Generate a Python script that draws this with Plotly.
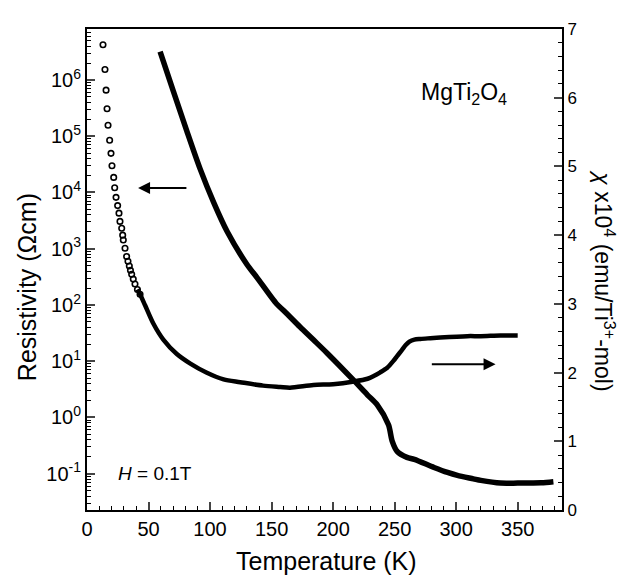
import plotly.graph_objects as go

# Resistivity (left axis, log scale), thick line
rho_T = [59.4, 70.2, 81.0, 92.0, 103.0, 114.0, 130.0, 138.0, 154.0, 160.0, 173.0, 184.0,
         195.0, 217.0, 228.0, 236.0, 245.0, 248.0, 252.0, 260.0, 266.0, 282.0, 293.0,
         301.0, 314.0, 320.0, 336.0, 350.0, 369.0, 379.0]
rho_val = [3.2e6, 6.3e5, 1.26e5, 2.6e4, 6.6e3, 2.0e3, 525, 310, 105, 79, 41, 24,
           14, 4.5, 2.5, 1.66, 0.74, 0.38, 0.25, 0.195, 0.18, 0.129, 0.105,
           0.093, 0.081, 0.076, 0.068, 0.068, 0.069, 0.072]

# Susceptibility (right axis), sparse open circles at low T
chi_T_sparse = [13.0, 14.6, 15.5, 16.3, 17.1, 18.4, 19.5, 20.3, 21.7, 22.5, 23.6, 24.9,
                26.0, 26.8, 28.2, 29.0, 29.5, 30.9, 32.2, 33.3, 34.4, 35.3, 36.3, 37.6,
                39.0, 41.0, 43.1]
chi_sparse = [6.77, 6.41, 6.11, 5.84, 5.60, 5.38, 5.19, 5.01, 4.84, 4.69, 4.55, 4.43,
              4.32, 4.20, 4.10, 4.00, 3.93, 3.81, 3.69, 3.62, 3.55, 3.49, 3.43, 3.36,
              3.29, 3.21, 3.14]

# Susceptibility, dense part (appears as a thick curve)
chi_T_dense = [41.0, 43.1, 47.2, 54.0, 62.0, 73.0, 84.0, 97.0, 111.0, 124.5, 143.0,
               157.0, 165.0, 184.0, 200.0, 217.0, 228.0, 233.0, 238.0, 244.0, 249.0, 252.0,
               256.0, 259.0, 262.0, 266.0, 271.0, 279.0, 287.0, 309.0, 320.0, 336.0, 350.0]
chi_dense = [3.21, 3.14, 2.98, 2.71, 2.48, 2.27, 2.13, 2.00, 1.90, 1.86, 1.81,
             1.79, 1.78, 1.82, 1.83, 1.87, 1.91, 1.95, 2.00, 2.07, 2.17, 2.24,
             2.33, 2.40, 2.45, 2.48, 2.49, 2.50, 2.51, 2.53, 2.53, 2.54, 2.54]

x_ticks = [0, 50, 100, 150, 200, 250, 300, 350]
log_ticks = [0.1, 1, 10, 100, 1e3, 1e4, 1e5, 1e6]
log_ticklabels = ["10<sup>-1</sup>", "10<sup>0</sup>", "10<sup>1</sup>", "10<sup>2</sup>",
                  "10<sup>3</sup>", "10<sup>4</sup>", "10<sup>5</sup>", "10<sup>6</sup>"]
chi_ticks = [0, 1, 2, 3, 4, 5, 6, 7]

FONT = "Liberation Sans, Arial, Helvetica, sans-serif"

log_minor = []
for e in range(-2, 7):
    for m in range(2, 10):
        log_minor.append(m * 10 ** e)

fig = go.Figure()
fig.add_trace(go.Scatter(x=rho_T, y=rho_val, mode="lines",
                         line=dict(color="black", width=5.5, shape="spline", smoothing=0.8),
                         showlegend=False, yaxis="y"))
fig.add_trace(go.Scatter(x=chi_T_dense, y=chi_dense, mode="lines",
                         line=dict(color="black", width=4.5, shape="spline", smoothing=0.8),
                         showlegend=False, yaxis="y2"))
fig.add_trace(go.Scatter(x=chi_T_sparse, y=chi_sparse, mode="markers",
                         marker=dict(symbol="circle-open", size=5.5, color="black",
                                     line=dict(width=1.6, color="black")),
                         showlegend=False, yaxis="y2"))

# page has an 8px body margin: figure is drawn offset by (8, 8)
fig.update_layout(
    width=624, height=575,
    margin=dict(l=79, r=70, t=12, b=73),
    paper_bgcolor="white", plot_bgcolor="white",
    font=dict(family=FONT, color="black", size=20),
    xaxis=dict(range=[0, 386], tickvals=x_ticks, ticks="inside", ticklen=8, tickwidth=1.6,
               showline=True, linewidth=2, linecolor="black", mirror=True,
               showgrid=False, zeroline=False, tickfont=dict(size=20),
               minor=dict(dtick=10, tick0=0, ticks="inside", ticklen=4, tickwidth=1.4,
                          tickcolor="black", showgrid=False)),
    yaxis=dict(type="log", range=[-1.646, 6.907], tickvals=log_ticks, ticktext=log_ticklabels,
               ticks="inside", ticklen=8, tickwidth=1.6, showline=True, linewidth=2,
               linecolor="black", showgrid=False, zeroline=False, tickfont=dict(size=20),
               minor=dict(tickmode="array", tickvals=log_minor, ticks="inside", ticklen=4,
                          tickwidth=1.2, tickcolor="black", showgrid=False)),
    yaxis2=dict(overlaying="y", side="right", range=[0, 7], tickvals=chi_ticks,
                ticks="inside", ticklen=8, tickwidth=1.6, showline=True, linewidth=2,
                linecolor="black", showgrid=False, zeroline=False, tickfont=dict(size=17),
                minor=dict(dtick=0.2, tick0=0, ticks="inside", ticklen=4, tickwidth=1.2,
                           tickcolor="black", showgrid=False)),
)

# page-pixel -> paper coordinate helpers (plot area spans 87..562 x 20..510 on the page)
L, R, T, B = 87, 562, 20, 510
def px(xp):
    return (xp - L) / (R - L)
def py(yp):
    return (B - yp) / (B - T)

ann = [
    dict(text="Temperature (K)", x=px(326), y=py(562), xref="paper", yref="paper",
         xanchor="center", yanchor="middle", showarrow=False, font=dict(size=25)),
    dict(text="Resistivity (Ωcm)", x=px(27), y=py(283), xref="paper", yref="paper",
         xanchor="center", yanchor="middle", showarrow=False, textangle=-90,
         font=dict(size=25)),
    dict(text="<i>χ</i> x10<sup>4</sup> (emu/Ti<sup>3+</sup>-mol)", x=px(604), y=py(276),
         xref="paper", yref="paper", xanchor="center", yanchor="middle",
         showarrow=False, textangle=90, font=dict(size=23)),
    dict(text="MgTi<sub>2</sub>O<sub>4</sub>", x=px(464), y=py(86), xref="paper", yref="paper",
         xanchor="center", yanchor="middle", showarrow=False, font=dict(size=23)),
    dict(text="<i>H</i> = 0.1T", x=px(116), y=py(473), xref="paper", yref="paper",
         xanchor="left", yanchor="middle", showarrow=False, font=dict(size=19)),
    dict(x=41.5, y=4.08, xref="x", yref="y", ax=82, ay=4.08, axref="x", ayref="y",
         text="", showarrow=True, arrowhead=2, arrowsize=1.2, arrowwidth=2,
         arrowcolor="black"),
    dict(x=332, y=2.12, xref="x", yref="y2", ax=279, ay=2.12, axref="x", ayref="y2",
         text="", showarrow=True, arrowhead=2, arrowsize=1.2, arrowwidth=2,
         arrowcolor="black"),
]
fig.update_layout(annotations=ann)

fig.write_html("out.html")
